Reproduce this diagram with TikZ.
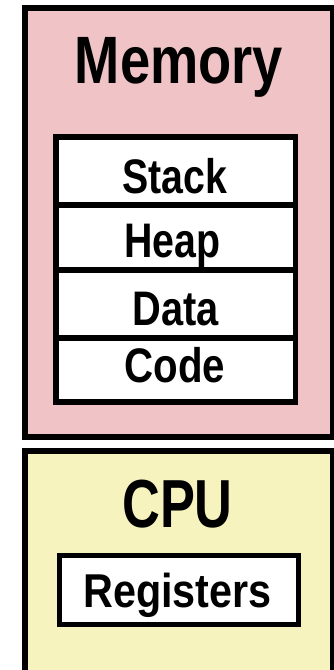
\documentclass[tikz,border=0pt]{standalone}
\usepackage{fontspec}
\setmainfont{Liberation Sans}
\usepackage{graphicx}
\definecolor{mempink}{RGB}{240,196,198}
\definecolor{cpuyellow}{RGB}{246,243,191}
\begin{document}
\begin{tikzpicture}[x=1pt,y=-1pt,
  outerbox/.style={draw=black,line width=6pt},
  innerbox/.style={draw=black,fill=white,line width=5.5pt},
  regbox/.style={draw=black,fill=white,line width=5pt},
  big/.style={font=\fontsize{67}{67}\bfseries\selectfont,anchor=base,inner sep=0pt},
  mid/.style={font=\fontsize{48.5}{48.5}\bfseries\selectfont,anchor=base,inner sep=0pt}]
\useasboundingbox (0,0) rectangle (334,670);
\clip (0,0) rectangle (334,670);
% Memory
\draw[outerbox,fill=mempink] (25,8) rectangle (333,437);
\node[big] (memlabel) at (179,83) {\scalebox{0.81}[1]{Memory}};
\draw[innerbox] (56,137) rectangle (295.5,402);
\draw[line width=5.5pt] (56,205) -- (295.5,205);
\draw[line width=5.5pt] (56,270) -- (295.5,270);
\draw[line width=5.5pt] (56,338) -- (295.5,338);
\node[mid] (stack) at (174.5,193) {\scalebox{0.81}[1]{Stack}};
\node[mid] (heap) at (172.5,257) {\scalebox{0.81}[1]{Heap}};
\node[mid] (data) at (175.5,325) {\scalebox{0.82}[1]{Data}};
\node[mid] (code) at (175,382) {\scalebox{0.83}[1]{Code}};
% CPU
\draw[outerbox,fill=cpuyellow] (25,451) rectangle (333,690);
\node[big,font=\fontsize{68}{68}\bfseries\selectfont] (cpulabel) at (177.5,527) {\scalebox{0.77}[1]{CPU}};
\draw[regbox] (59.5,555.5) rectangle (298.5,624.5);
\node[mid,font=\fontsize{47.5}{47.5}\bfseries\selectfont] (regs) at (177.5,607) {\scalebox{0.87}[1]{Registers}};
\end{tikzpicture}
\end{document}
